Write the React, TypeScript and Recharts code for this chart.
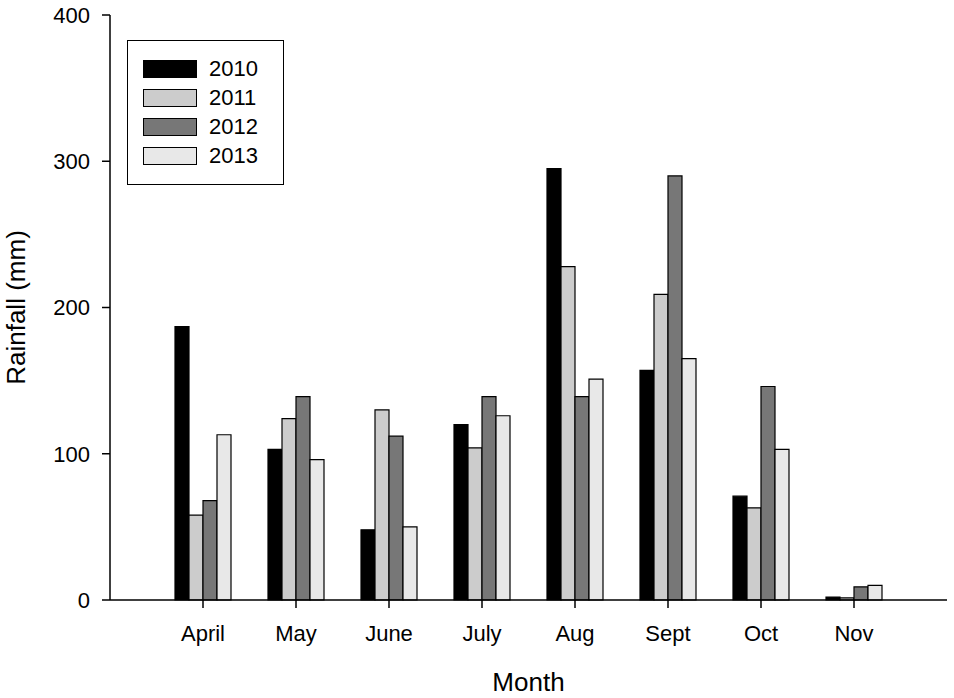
import React from "react";
import { Bar, BarChart, Legend, XAxis, YAxis } from "recharts";

const months = ["April", "May", "June", "July", "Aug", "Sept", "Oct", "Nov"];
const rain2010 = [187, 103, 48, 120, 295, 157, 71, 2];
const rain2011 = [58, 124, 130, 104, 228, 209, 63, 1.5];
const rain2012 = [68, 139, 112, 139, 139, 290, 146, 9];
const rain2013 = [113, 96, 50, 126, 151, 165, 103, 10];
const yTicks = [0, 100, 200, 300, 400];

const series = [
  { key: "y2010", name: "2010", fill: "#000000" },
  { key: "y2011", name: "2011", fill: "#cccccc" },
  { key: "y2012", name: "2012", fill: "#777777" },
  { key: "y2013", name: "2013", fill: "#e8e8e8" },
];

const data = months.map((month, i) => ({
  month,
  y2010: rain2010[i],
  y2011: rain2011[i],
  y2012: rain2012[i],
  y2013: rain2013[i],
}));

const FONT = '"Liberation Sans", Arial, sans-serif';

function LegendBox() {
  return (
    <div
      style={{
        width: 157,
        height: 145,
        boxSizing: "border-box",
        border: "1.5px solid #000",
        background: "#fff",
        paddingTop: 13,
        paddingLeft: 15,
      }}
    >
      {series.map((s) => (
        <div key={s.key} style={{ display: "flex", alignItems: "center", height: 29 }}>
          <span
            style={{
              width: 54,
              height: 18,
              boxSizing: "border-box",
              border: "1.2px solid #000",
              background: s.fill,
              marginRight: 12,
            }}
          />
          <span style={{ fontFamily: FONT, fontSize: 22, color: "#000", lineHeight: "18px" }}>{s.name}</span>
        </div>
      ))}
    </div>
  );
}

export default function App() {
  return (
    <div style={{ position: "absolute", left: 0, top: 0, background: "#fff" }}>
      <BarChart
        width={954}
        height={698}
        data={data}
        margin={{ top: 15, right: 7, left: 0, bottom: 0 }}
        barCategoryGap={18.5}
        barGap={0}
        style={{ fontFamily: FONT }}
      >
        <XAxis
          dataKey="month"
          height={98}
          padding={{ left: 46.5, right: 46.5 }}
          stroke="#000"
          strokeWidth={1.5}
          tickSize={8}
          tickMargin={17}
          tick={{ fill: "#000", fontSize: 22 }}
          label={{
            content: ({ viewBox }: any) => (
              <text
                x={viewBox.x + viewBox.width / 2}
                y={viewBox.y + viewBox.height - 7}
                textAnchor="middle"
                fontSize={26}
                fill="#000"
              >
                Month
              </text>
            ),
          }}
        />
        <XAxis xAxisId="top" dataKey="month" orientation="top" height={0} tick={false} tickLine={false} stroke="#000" strokeWidth={1.5} />
        <YAxis
          width={110}
          domain={[0, 400]}
          ticks={yTicks}
          stroke="#000"
          strokeWidth={1.5}
          tickSize={8}
          tickMargin={12}
          tick={{ fill: "#000", fontSize: 22 }}
          label={{
            content: ({ viewBox }: any) => {
              const cx = 25;
              const cy = viewBox.y + viewBox.height / 2;
              return (
                <text x={cx} y={cy} textAnchor="middle" fontSize={26} fill="#000" transform={`rotate(-90 ${cx} ${cy})`}>
                  Rainfall (mm)
                </text>
              );
            },
          }}
        />
        <YAxis yAxisId="right" orientation="right" width={0} domain={[0, 400]} tick={false} tickLine={false} stroke="#000" strokeWidth={1.5} />
        <Legend
          layout="vertical"
          align="center"
          verticalAlign="middle"
          wrapperStyle={{ top: 40, left: 127, width: 157, height: 145 }}
          content={() => <LegendBox />}
        />
        {series.map((s) => (
          <Bar key={s.key} dataKey={s.key} name={s.name} fill={s.fill} stroke="#000" strokeWidth={1.2} isAnimationActive={false} />
        ))}
      </BarChart>
    </div>
  );
}
